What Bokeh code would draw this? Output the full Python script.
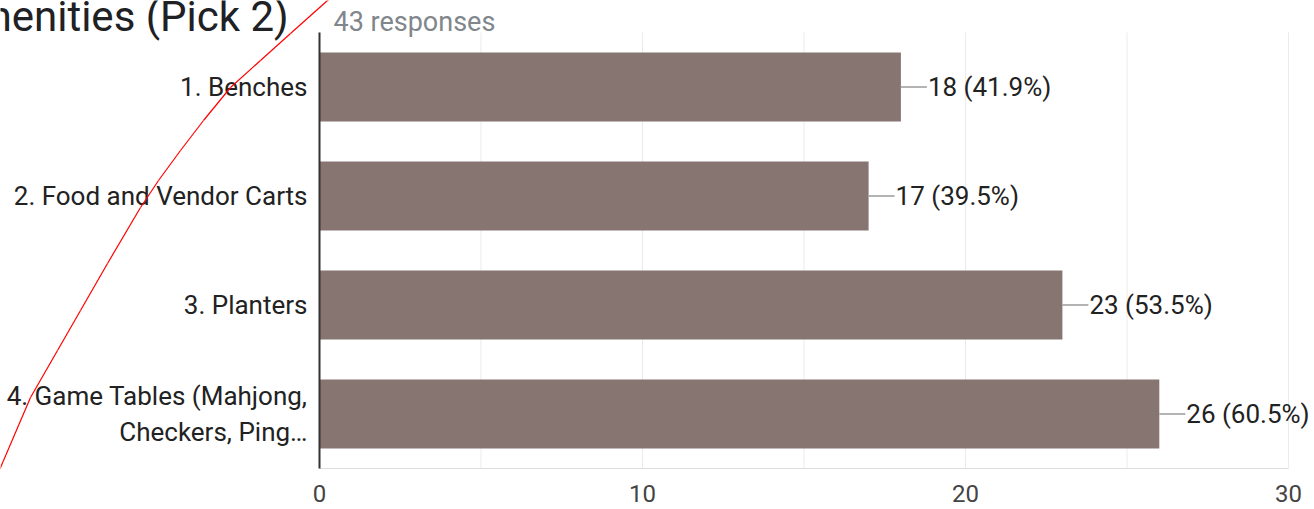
from bokeh.plotting import figure
from bokeh.models import (ColumnDataSource, FixedTicker, Label, Arrow, Range1d)
from bokeh.embed import file_html
from bokeh.resources import INLINE

# ---- data ----
categories = [
    "1. Benches",
    "2. Food and Vendor Carts",
    "3. Planters",
    "4. Game Tables (Mahjong,\nCheckers, Ping\u2026",
]
counts = [18, 17, 23, 26]
total_responses = 43
x_ticks = [0, 10, 20, 30]
x_minor_ticks = [5, 15, 25]
title_text = "Amenities (Pick 2)"
subtitle_text = "43 responses"

# hand-drawn red stroke over the screenshot (canvas pixels, from top-left)
red_stroke_x = [336, 327, 290, 260, 230, 203, 180, 158, 140, 107, 80, 57, 30, 0, -4]
red_stroke_y = [-8, 0, 33, 60, 87, 120, 150, 180, 207, 263, 310, 350, 397, 467, 475]

# ---- layout ----
W, H = 1314, 509
FONT = "Roboto"
LEFT, RIGHT, TOP, BOTTOM = 319, 26, 32, 41      # plot-area insets in pixels
n = len(categories)
frame_w = W - LEFT - RIGHT
px_per_unit = frame_w / (x_ticks[-1] - x_ticks[0])
band_px = (H - TOP - BOTTOM) / n

y_pos = [(n - 1 - i) + 0.5 for i in range(n)]      # first category on top
labels = [f"{c} ({c / total_responses * 100:.1f}%)" for c in counts]
lead_end = [c + 26 / px_per_unit for c in counts]

src = ColumnDataSource(dict(y=y_pos, count=counts, label=labels, lead=lead_end))

p = figure(width=W, height=H,
           x_range=Range1d(x_ticks[0] - LEFT / px_per_unit, x_ticks[-1] + RIGHT / px_per_unit),
           y_range=Range1d(-BOTTOM / band_px, n + TOP / band_px),
           output_backend="svg", toolbar_location=None,
           min_border=0, min_border_left=0, min_border_right=0,
           min_border_top=0, min_border_bottom=0)

# grid lines limited to the plot area
grid_x = sorted(x_ticks + x_minor_ticks)
p.segment(x0=grid_x, y0=[0] * len(grid_x), x1=grid_x, y1=[n] * len(grid_x),
          line_color="#ebebeb", line_width=1)
# bottom baseline of the plot area
p.segment(x0=[x_ticks[0]], y0=[0], x1=[x_ticks[-1]], y1=[0],
          line_color="#dedede", line_width=1)

p.hbar(y="y", left=0, right="count", height=0.633, source=src,
       fill_color="#877572", line_color=None)
p.segment(x0="count", y0="y", x1="lead", y1="y", source=src,
          line_color="#9a9a9a", line_width=1.5)

# vertical axis line
p.segment(x0=[0], y0=[0], x1=[0], y1=[n], line_color="#333333", line_width=2)

for yy, c, lab in zip(y_pos, counts, labels):
    p.add_layout(Label(x=c, y=yy, text=lab, x_offset=27,
                       text_baseline="middle", text_font=FONT,
                       text_font_size="26px", text_color="#222222"))

# axes drawn at fixed locations inside the canvas
p.xaxis.fixed_location = 0
p.xaxis.ticker = FixedTicker(ticks=x_ticks)
p.xaxis.axis_line_color = None
p.xaxis.major_tick_line_color = None
p.xaxis.minor_tick_line_color = None
p.xaxis.major_label_text_font = FONT
p.xaxis.major_label_text_font_size = "24px"
p.xaxis.major_label_text_color = "#444444"
p.xaxis.major_label_standoff = 10

p.yaxis.fixed_location = 0
p.yaxis.ticker = FixedTicker(ticks=y_pos)
p.yaxis.major_label_overrides = {yy: cat for yy, cat in zip(y_pos, categories)}
p.yaxis.axis_line_color = None
p.yaxis.major_tick_line_color = None
p.yaxis.minor_tick_line_color = None
p.yaxis.major_label_text_font = FONT
p.yaxis.major_label_text_font_size = "26px"
p.yaxis.major_label_text_color = "#222222"
p.yaxis.major_label_standoff = 6
p.yaxis.major_label_text_line_height = 1.2

p.xgrid.grid_line_color = None
p.ygrid.grid_line_color = None
p.outline_line_color = None
p.background_fill_color = "white"
p.border_fill_color = "white"

# title & subtitle
p.add_layout(Label(x=-53, y=16, x_units="canvas", y_units="canvas",
                   text=title_text, text_font=FONT, text_font_size="42px",
                   text_color="#202124", text_baseline="alphabetic"))
p.add_layout(Label(x=333, y=21, x_units="canvas", y_units="canvas",
                   text=subtitle_text, text_font=FONT, text_font_size="27px",
                   text_color="#80868b", text_baseline="alphabetic"))

# red stroke drawn as head-less arrow segments in canvas pixels
stroke = ColumnDataSource(dict(x0=red_stroke_x[:-1], y0=red_stroke_y[:-1],
                               x1=red_stroke_x[1:], y1=red_stroke_y[1:]))
p.add_layout(Arrow(end=None, source=stroke, x_start="x0", y_start="y0",
                   x_end="x1", y_end="y1", start_units="canvas", end_units="canvas",
                   line_color="#ff0000", line_width=1.2))

open("out.html", "w").write(file_html(p, INLINE))
